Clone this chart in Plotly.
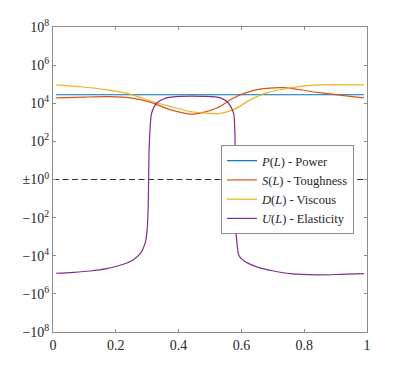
import numpy as np
import plotly.graph_objects as go

# sample positions along L
x_flat = [0.01, 0.99]
p_vals = [2.8e4, 2.8e4]

x_s = [0.01, 0.097, 0.182, 0.246, 0.309, 0.373, 0.437, 0.469, 0.522, 0.575,
       0.628, 0.68, 0.735, 0.788, 0.84, 0.894, 0.947, 0.99]
s_vals = [1.9e4, 2.1e4, 2.2e4, 1.9e4, 1.15e4, 4.6e3, 2.7e3, 3.0e3, 5.6e3, 1.9e4,
          4.2e4, 6.0e4, 6.6e4, 5.1e4, 3.7e4, 2.9e4, 2.3e4, 1.9e4]

x_d = [0.01, 0.097, 0.182, 0.246, 0.309, 0.373, 0.437, 0.49, 0.522, 0.575,
       0.628, 0.68, 0.735, 0.788, 0.84, 0.894, 0.99]
d_vals = [9.3e4, 7.1e4, 4.7e4, 3.0e4, 1.35e4, 6.8e3, 3.7e3, 3.0e3, 2.8e3, 4.6e3,
          1.5e4, 3.5e4, 5.6e4, 7.6e4, 9.1e4, 9.3e4, 9.3e4]

x_u = [0.01, 0.065, 0.118, 0.171, 0.224, 0.256, 0.278, 0.293, 0.300, 0.303,
       0.3046, 0.306, 0.309, 0.314, 0.330, 0.362, 0.405, 0.48, 0.533, 0.559,
       0.575, 0.579, 0.5805, 0.582, 0.585, 0.5917, 0.605, 0.6236, 0.656, 0.703,
       0.756, 0.841, 0.915, 0.99]
u_vals = [-8.3e4, -7.4e4, -6.3e4, -4.7e4, -2.8e4, -1.6e4, -7.8e3, -2.3e3, -4.0e2, -3.0e1,
          0.0, 3.0e1, 4.0e2, 3.0e3, 1.0e4, 1.9e4, 2.3e4, 2.3e4, 1.9e4, 1.0e4,
          3.0e3, 4.0e2, 0.0, -4.0e2, -1.5e3, -9.3e3, -1.7e4, -2.6e4, -4.2e4, -6.3e4,
          -8.7e4, -1.0e5, -9.5e4, -8.7e4]

tick_exp = [8, 6, 4, 2, 0, -2, -4, -6, -8]
tick_text = ['10<sup>8</sup>', '10<sup>6</sup>', '10<sup>4</sup>', '10<sup>2</sup>',
             '\u00b110<sup>0</sup>', '\u221210<sup>2</sup>', '\u221210<sup>4</sup>',
             '\u221210<sup>6</sup>', '\u221210<sup>8</sup>']


def symlog(v):
    v = np.asarray(v, dtype=float)
    return np.sign(v) * np.log10(1 + np.abs(v))


font = 'Liberation Serif, DejaVu Serif, serif'
fig = go.Figure()

fig.add_shape(type='line', xref='paper', x0=0, x1=1, y0=0, y1=0,
              line=dict(color='#333333', width=1.2, dash='6px,3.5px'), layer='below')

series = [
    (x_flat, p_vals, '#0072BD', '<i>P</i>(<i>L</i>) - Power'),
    (x_s, s_vals, '#D95319', '<i>S</i>(<i>L</i>) - Toughness'),
    (x_d, d_vals, '#EDB120', '<i>D</i>(<i>L</i>) - Viscous'),
    (x_u, u_vals, '#7E2F8E', '<i>U</i>(<i>L</i>) - Elasticity'),
]
for xs, ys, col, name in series:
    fig.add_trace(go.Scatter(x=xs, y=symlog(ys), mode='lines', name=name,
                             line=dict(color=col, width=1.2, shape='spline', smoothing=0.8)))

axis_style = dict(showline=True, linecolor='#8c8c8c', linewidth=1, mirror='ticks',
                  ticks='inside', ticklen=3, tickcolor='#8c8c8c', showgrid=False,
                  zeroline=False, automargin=False,
                  tickfont=dict(family=font, size=14, color='#262626'))

fig.update_xaxes(range=[0, 1], tickvals=[0, 0.2, 0.4, 0.6, 0.8, 1],
                 ticktext=['0', '0.2', '0.4', '0.6', '0.8', '1'], **axis_style)
fig.update_yaxes(range=[-8, 8], tickvals=tick_exp, ticktext=tick_text, **axis_style)

# page has an 8px body margin, so the figure is sized to fit the window
fig.update_layout(
    width=397, height=365,
    margin=dict(l=45, r=38, t=19, b=41),
    paper_bgcolor='white', plot_bgcolor='white',
    legend=dict(x=0.535, y=0.613, xanchor='left', yanchor='top',
                bgcolor='white', bordercolor='#8c8c8c', borderwidth=1,
                font=dict(family=font, size=12.5, color='#262626'),
                tracegroupgap=0, itemwidth=30),
)

fig.write_html('out.html')
